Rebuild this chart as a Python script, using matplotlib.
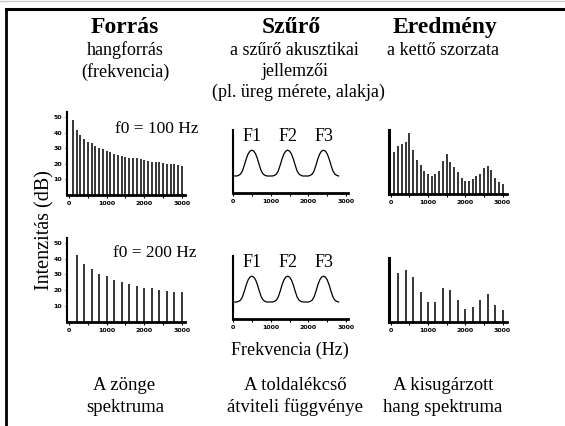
import matplotlib
matplotlib.use("Agg")
import matplotlib.pyplot as plt
from matplotlib.lines import Line2D

# harmonic frequencies (Hz)
freq_100 = list(range(100, 3001, 100))
freq_200 = list(range(200, 3001, 200))

# source spectrum (dB)
src_100 = [47.8, 41.6, 38.7, 35.8, 34.2, 33.1, 31.7, 30.0, 29.2, 28.4,
           27.3, 26.3, 25.5, 24.8, 24.4, 23.8, 23.6, 23.4, 22.8, 22.2,
           21.5, 21.3, 21.3, 21.3, 20.7, 20.1, 20.1, 19.7, 19.5, 18.8]
src_200 = [42.1, 36.5, 33.3, 30.2, 28.7, 26.4, 25.2, 23.9, 22.6, 21.4,
           21.4, 20.1, 19.5, 19.1, 19.1]

# filter transfer function (relative), read every 50 Hz
filt_freq = list(range(0, 2801, 50))
filt_val = [0.27, 0.27, 0.27, 0.28, 0.30, 0.35, 0.44, 0.54, 0.62, 0.665,
            0.68, 0.665, 0.62, 0.54, 0.44, 0.35, 0.30, 0.28, 0.27, 0.27,
            0.27, 0.27, 0.28, 0.30, 0.35, 0.44, 0.54, 0.62, 0.665, 0.68,
            0.665, 0.62, 0.54, 0.44, 0.35, 0.30, 0.28, 0.27, 0.27, 0.27,
            0.27, 0.28, 0.30, 0.35, 0.44, 0.54, 0.62, 0.665, 0.68, 0.665,
            0.62, 0.54, 0.44, 0.35, 0.30, 0.28, 0.27]
formants = ["F1", "F2", "F3"]
formant_freq = [500, 1460, 2420]

# output spectrum (relative dB)
out_100 = [35.1, 40.1, 41.7, 43.1, 50.8, 36.8, 28.3, 24.2, 18.7, 16.8,
           15.1, 16.8, 19.2, 27.7, 33.5, 26.1, 22.5, 18.4, 13.5, 10.4,
           10.4, 12.1, 15.1, 16.8, 21.7, 22.8, 20.0, 13.5, 9.6, 8.5]
out_200 = [40.6, 43.1, 37.3, 24.8, 16.6, 16.6, 28.2, 26.2, 17.9, 10.5,
           12.4, 17.9, 23.2, 14.1, 9.9]

W, H = 565, 426
SERIF = "Liberation Serif"

fig = plt.figure(figsize=(W / 100, H / 100), dpi=100)


def box(left, top, right, bottom):
    return [left / W, 1 - bottom / H, (right - left) / W, (bottom - top) / H]


def style(ax, xlim, ylim, ywidth, yticks=None):
    ax.set_xlim(xlim)
    ax.set_ylim(ylim)
    for s in ("top", "right"):
        ax.spines[s].set_visible(False)
    ax.spines["left"].set_linewidth(ywidth)
    ax.spines["bottom"].set_linewidth(2.0)
    ax.set_xticks([0, 1000, 2000, 3000])
    ax.set_xticks([500, 1500, 2500], minor=True)
    ax.tick_params(axis="x", which="both", length=2.5, width=0.8, pad=2,
                   labelsize=4.5)
    if yticks:
        ax.set_yticks(yticks)
        ax.tick_params(axis="y", length=1.5, width=0.6, pad=2, labelsize=4.5)
    else:
        ax.set_yticks([])
    for lab in ax.get_xticklabels() + ax.get_yticklabels():
        lab.set_fontweight("bold")
    ax.patch.set_alpha(0)


def txt(x, y, s, size, **kw):
    fig.text(x / W, 1 - y / H, s, fontsize=size, family=SERIF,
             ha=kw.pop("ha", "center"), va=kw.pop("va", "baseline"), **kw)


# source panels
for top, bottom, fr, vals in [(112, 195, freq_100, src_100),
                              (238, 321.5, freq_200, src_200)]:
    ax = fig.add_axes(box(67, top, 185, bottom))
    ax.vlines(fr, 0, vals, color="black", lw=1.1)
    style(ax, (-53, 3080), (0, 53.2), 1.5, [10, 20, 30, 40, 50])

# filter panels
for top, bottom in [(130, 193), (256, 319)]:
    ax = fig.add_axes(box(233, top, 348, bottom))
    ax.plot(filt_freq, filt_val, color="black", lw=0.9)
    style(ax, (0, 3050), (0, 1), 1.5)
    for name, f in zip(formants, formant_freq):
        ax.text(f, 0.83, name, fontsize=13, family=SERIF, ha="center",
                va="baseline", transform=ax.get_xaxis_transform())

# output panels
for top, bottom, fr, vals in [(130, 194, freq_100, out_100),
                              (258, 321.7, freq_200, out_200)]:
    ax = fig.add_axes(box(389, top, 507, bottom))
    ax.vlines(fr, 0, vals, color="black", lw=1.1)
    style(ax, (-45, 3120), (0, 53), 2.2)

# headers
txt(124.7, 33.3, "Forrás", 17, fontweight="bold")
txt(291.7, 33.3, "Szűrő", 17, fontweight="bold")
txt(444.8, 33.3, "Eredmény", 17, fontweight="bold")
txt(125, 55, "hangforrás", 13)
txt(125, 76.5, "(frekvencia)", 13)
txt(294.3, 55, "a szűrő akusztikai", 13)
txt(295, 76.5, "jellemzői", 13)
txt(298.8, 97, "(pl. üreg mérete, alakja)", 13)
txt(442.8, 55, "a kettő szorzata", 13)

txt(115, 133, "f0 = 100 Hz", 12.5, ha="left")
txt(113, 257, "f0 = 200 Hz", 12.5, ha="left")

txt(290, 355, "Frekvencia (Hz)", 13)
fig.text(45 / W, 1 - 230 / H, "Intenzitás (dB)", fontsize=14.5, family=SERIF,
         rotation=90, ha="center", va="center")

txt(124, 390, "A zönge", 13.5)
txt(125, 412, "spektruma", 13.5)
txt(295, 390, "A toldalékcső", 13.5)
txt(295, 412, "átviteli függvénye", 13.5)
txt(443, 390, "A kisugárzott", 13.5)
txt(443, 412, "hang spektruma", 13.5)

# frame
fig.add_artist(Line2D([6 / W, 1], [1 - 8.7 / H, 1 - 8.7 / H], color="black",
                      lw=2.2, transform=fig.transFigure))
fig.add_artist(Line2D([6 / W, 6 / W], [0, 1 - 8.7 / H], color="black",
                      lw=2.0, transform=fig.transFigure))
fig.add_artist(Line2D([0, 1], [1 - 0.5 / H, 1 - 0.5 / H], color="#c8c8c8",
                      lw=1.0, transform=fig.transFigure))

fig.savefig("out.png", dpi=100)
